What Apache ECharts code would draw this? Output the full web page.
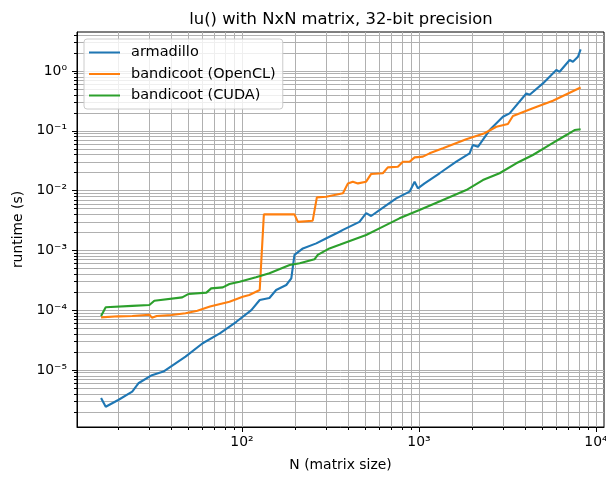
<!DOCTYPE html>
<html><head><meta charset="utf-8">
<script src="https://cdn.jsdelivr.net/npm/echarts@6/dist/echarts.min.js"></script>
<style>html,body{margin:0;padding:0;background:#fff}#c{width:606px;height:478px}</style>
</head><body><div id="c"></div>
<script>
// ---- data ----
const armadilloN = [16, 17, 20, 24, 26, 31, 36, 48, 60, 75, 93, 113, 126, 143, 156, 178, 190, 198, 221, 263, 300, 356, 372, 461, 503, 537, 598, 744, 885, 945, 986, 1076, 1307, 1625, 1932, 2018, 2153, 2507, 2980, 3251, 4040, 4220, 5015, 5970, 6230, 7100, 7410, 7910, 8192];
const armadilloT = [3.4e-6, 2.43e-6, 3.15e-6, 4.34e-6, 6.0e-6, 8.2e-6, 9.4e-6, 1.67e-5, 2.8e-5, 4.1e-5, 6.4e-5, 1.0e-4, 1.48e-4, 1.6e-4, 2.18e-4, 2.64e-4, 3.4e-4, 8.4e-4, 1.08e-3, 1.31e-3, 1.6e-3, 2.05e-3, 2.2e-3, 3.0e-3, 4.2e-3, 3.76e-3, 4.7e-3, 7.4e-3, 9.6e-3, 1.41e-2, 1.09e-2, 1.32e-2, 1.95e-2, 3.04e-2, 4.2e-2, 5.8e-2, 5.4e-2, 0.103, 0.172, 0.196, 0.42, 0.40, 0.62, 1.04, 0.97, 1.53, 1.43, 1.73, 2.3];

const openclN = [16, 20, 24, 30, 31, 33, 40, 48, 56, 66, 85, 101, 110, 126, 133, 198, 207, 251, 265, 299, 372, 397, 423, 452, 503, 537, 625, 667, 760, 811, 885, 945, 1052, 1148, 1366, 1850, 2348, 2736, 3180, 3395, 4400, 5710, 8192];
const openclT = [7.6e-5, 7.9e-5, 8.0e-5, 8.4e-5, 7.5e-5, 8.0e-5, 8.3e-5, 8.9e-5, 9.8e-5, 1.15e-4, 1.39e-4, 1.68e-4, 1.8e-4, 2.18e-4, 4.0e-3, 4.0e-3, 3.0e-3, 3.14e-3, 7.7e-3, 7.9e-3, 9.0e-3, 1.32e-2, 1.41e-2, 1.32e-2, 1.41e-2, 1.9e-2, 1.95e-2, 2.45e-2, 2.5e-2, 3.04e-2, 3.04e-2, 3.6e-2, 3.7e-2, 4.2e-2, 5.1e-2, 7.2e-2, 9.1e-2, 0.117, 0.13, 0.177, 0.238, 0.319, 0.53];

const cudaN = [16, 17, 24, 30, 32, 46, 50, 63, 67, 78, 85, 97, 120, 143, 186, 212, 257, 268, 312, 356, 503, 598, 776, 1006, 1366, 1850, 2297, 2852, 3545, 4400, 5470, 6800, 7570, 8192];
const cudaT = [8.0e-5, 1.12e-4, 1.18e-4, 1.22e-4, 1.44e-4, 1.64e-4, 1.87e-4, 1.97e-4, 2.32e-4, 2.41e-4, 2.74e-4, 3.0e-4, 3.55e-4, 4.14e-4, 5.7e-4, 6.1e-4, 7.1e-4, 8.4e-4, 1.08e-3, 1.24e-3, 1.81e-3, 2.34e-3, 3.44e-3, 4.74e-3, 6.97e-3, 1.02e-2, 1.5e-2, 1.95e-2, 2.86e-2, 3.94e-2, 5.8e-2, 8.5e-2, 0.103, 0.106];

const seriesNames = ['armadillo', 'bandicoot (OpenCL)', 'bandicoot (CUDA)'];
const xMajorTicks = [100, 1000, 10000];
const yMajorTicks = [1e-5, 1e-4, 1e-3, 1e-2, 1e-1, 1];
const xRange = [11.7, 11100];
const yRange = [1.114e-6, 4.49];

// ---- helpers ----
function minorTicks(range) {
  const out = [];
  for (let e = Math.floor(Math.log10(range[0])); e <= Math.ceil(Math.log10(range[1])); e++) {
    for (let m = 1; m <= 9; m++) {
      const v = Number((m * Math.pow(10, e)).toPrecision(6));
      if (v >= range[0] && v <= range[1]) out.push(v);
    }
  }
  return out;
}
const xAllTicks = minorTicks(xRange);
const yAllTicks = minorTicks(yRange);
const SUP = {'-': '\u207B', '0': '\u2070', '1': '\u00B9', '2': '\u00B2', '3': '\u00B3', '4': '\u2074', '5': '\u2075', '6': '\u2076', '7': '\u2077', '8': '\u2078', '9': '\u2079'};
function powLabel(v) {
  const e = Math.round(Math.log10(v));
  return '10' + String(e).split('').map(c => SUP[c]).join('');
}
const pairs = (xs, ys) => xs.map((x, i) => [x, ys[i]]);
const FONT = 'DejaVu Sans';
const colors = ['#1f77b4', '#ff7f0e', '#2ca02c'];

function axisPair(kind) {
  const isX = kind === 'x';
  const range = isX ? xRange : yRange;
  const major = isX ? xMajorTicks : yMajorTicks;
  const all = isX ? xAllTicks : yAllTicks;
  return [
    {
      type: 'log', logBase: 10, min: range[0], max: range[1],
      position: isX ? 'bottom' : 'left',
      name: isX ? 'N (matrix size)' : 'runtime (s)',
      nameLocation: 'middle', nameGap: isX ? 31 : 51,
      nameTextStyle: {fontFamily: FONT, fontSize: 13.9, color: '#000'},
      axisLine: {show: true, lineStyle: {color: '#000', width: 1}},
      axisTick: {show: true, inside: false, length: 3, customValues: all, lineStyle: {color: '#000', width: 1}},
      axisLabel: {show: true, customValues: major, formatter: powLabel, margin: isX ? 8 : 10,
                  color: '#000', fontFamily: FONT, fontSize: 13.9},
      splitLine: {show: true, lineStyle: {color: '#b0b0b0', width: 1}},
      minorTick: {show: false}, minorSplitLine: {show: false}
    },
    {
      type: 'log', logBase: 10, min: range[0], max: range[1],
      position: isX ? 'bottom' : 'left',
      axisLine: {show: false},
      axisTick: {show: true, inside: false, length: 5, customValues: major, lineStyle: {color: '#000', width: 1}},
      axisLabel: {show: false},
      splitLine: {show: false}
    }
  ];
}

const chart = echarts.init(document.getElementById('c'), null, {renderer: 'canvas'});
chart.setOption({
  animation: false,
  backgroundColor: '#fff',
  title: {
    text: 'lu() with NxN matrix, 32-bit precision',
    left: 336, top: 7, textAlign: 'center',
    textStyle: {fontFamily: FONT, fontSize: 16.4, fontWeight: 'normal', color: '#000'}
  },
  grid: {left: 77, right: 2, top: 32, bottom: 51, show: true, borderColor: '#000', borderWidth: 1,
         backgroundColor: 'transparent', containLabel: false, outerBoundsMode: 'none'},
  legend: {
    orient: 'vertical', left: 84, top: 39,
    padding: [6, 7, 6, 5], itemGap: 6.5, itemWidth: 31, itemHeight: 2, icon: 'rect',
    backgroundColor: 'rgba(255,255,255,0.8)', borderColor: '#cccccc', borderWidth: 1, borderRadius: 3,
    textStyle: {fontFamily: FONT, fontSize: 14.5, color: '#000', lineHeight: 14, padding: [0, 0, 0, 6]},
    data: seriesNames
  },
  xAxis: axisPair('x'),
  yAxis: axisPair('y'),
  series: [
    {name: seriesNames[0], data: pairs(armadilloN, armadilloT)},
    {name: seriesNames[1], data: pairs(openclN, openclT)},
    {name: seriesNames[2], data: pairs(cudaN, cudaT)}
  ].map((s, i) => Object.assign({
    type: 'line', xAxisIndex: 0, yAxisIndex: 0, symbol: 'none', showSymbol: false,
    color: colors[i], lineStyle: {width: 2.1, color: colors[i]}, emphasis: {disabled: true}
  }, s))
});
</script></body></html>
